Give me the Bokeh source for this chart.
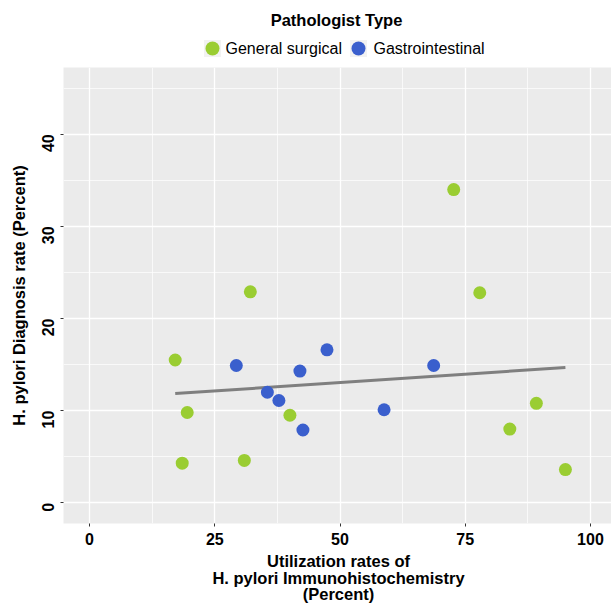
import numpy as np
from math import pi
from bokeh.plotting import figure
from bokeh.layouts import column
from bokeh.models import Range1d, FixedTicker
from bokeh.core.properties import value
from bokeh.embed import file_html
from bokeh.resources import INLINE

# ---------------- data ----------------
categories = ["General surgical", "Gastrointestinal"]
colors = ["#9ACD32", "#3A5FCD"]

gs_x = [17.1, 19.5, 18.5, 32.1, 30.9, 40.0, 72.7, 77.9, 83.9, 89.2, 95.0]
gs_y = [15.5, 9.8, 4.3, 22.9, 4.6, 9.5, 34.0, 22.8, 8.0, 10.8, 3.6]

gi_x = [29.3, 35.5, 37.8, 42.0, 42.6, 47.4, 58.8, 68.7]
gi_y = [14.9, 12.0, 11.1, 14.3, 7.9, 16.6, 10.1, 14.9]

x_ticks = [0, 25, 50, 75, 100]
x_minor = [12.5, 37.5, 62.5, 87.5]
y_ticks = [0, 10, 20, 30, 40]
y_minor = [5, 15, 25, 35, 45]

legend_title = "Pathologist Type"
x_title_lines = ["Utilization rates of", "H. pylori Immunohistochemistry", "(Percent)"]
y_title = "H. pylori Diagnosis rate (Percent)"

FONT = "Liberation Sans"
BOLD_SIZE = "16.5px"
W = 611
LEFT = 63          # frame left edge (px)
HDR_H = 67         # header height = frame top
MAIN_H = 483       # frame 456 + bottom border 27
FTR_H = 603 - HDR_H - MAIN_H


def blank(height, top):
    f = figure(width=W, height=height, x_range=Range1d(LEFT, W), y_range=Range1d(top + height, top),
               x_axis_type=None, y_axis_type=None,
               min_border_left=LEFT, min_border_right=0, min_border_top=0, min_border_bottom=0,
               output_backend="svg", toolbar_location=None)
    f.outline_line_color = None
    f.background_fill_color = "white"
    f.border_fill_color = "white"
    return f


# ---------------- header (legend) ----------------
hdr = blank(HDR_H, 0)
hdr.text(x=[336], y=[19.5], text=[legend_title], text_font=value(FONT),
         text_font_style="bold", text_font_size=BOLD_SIZE, text_align="center",
         text_baseline="middle", text_color="black")
key_x = [212, 358]
label_x = [225, 373]
key_y = [48, 48]
hdr.scatter(x=key_x, y=key_y, marker="square", size=17, fill_color="#F2F2F2", line_color=None)
hdr.scatter(x=key_x, y=key_y, size=14, fill_color=colors, line_color=None)
hdr.text(x=label_x, y=key_y, text=categories, text_font=value(FONT),
         text_font_size="16px", text_align="left", text_baseline="middle",
         text_color="black")

# ---------------- main panel ----------------
main = figure(width=W, height=MAIN_H, x_range=Range1d(-5.2, 104.2), y_range=Range1d(-2.25, 47.25),
              min_border_left=LEFT, min_border_right=0, min_border_top=0, min_border_bottom=MAIN_H - 456,
              output_backend="svg", toolbar_location=None)
main.background_fill_color = "#EBEBEB"
main.border_fill_color = "white"
main.outline_line_color = None

xt = FixedTicker(ticks=x_ticks, minor_ticks=x_minor)
yt = FixedTicker(ticks=y_ticks, minor_ticks=y_minor)
main.xaxis.ticker = xt
main.yaxis.ticker = yt
main.xgrid.ticker = xt
main.ygrid.ticker = yt
for g in (main.xgrid[0], main.ygrid[0]):
    g.grid_line_color = "white"
    g.grid_line_width = 1.3
    g.minor_grid_line_color = "white"
    g.minor_grid_line_width = 0.7

for ax in (main.xaxis[0], main.yaxis[0]):
    ax.axis_line_color = None
    ax.major_tick_line_color = "#333333"
    ax.major_tick_out = 3
    ax.major_tick_in = 0
    ax.minor_tick_line_color = None
    ax.major_label_text_font = FONT
    ax.major_label_text_font_style = "bold"
    ax.major_label_text_font_size = "16px"
    ax.major_label_text_color = "black"

main.xaxis.major_label_standoff = 5
main.yaxis.major_label_orientation = pi / 2
main.yaxis.major_label_standoff = 11
main.yaxis.axis_label = y_title
main.yaxis.axis_label_text_font = FONT
main.yaxis.axis_label_text_font_style = "bold"
main.yaxis.axis_label_text_font_size = BOLD_SIZE
main.yaxis.axis_label_text_color = "black"
main.yaxis.axis_label_standoff = 6

all_x = np.array(gs_x + gi_x)
all_y = np.array(gs_y + gi_y)
slope, intercept = np.polyfit(all_x, all_y, 1)
fit_x = np.array([all_x.min(), all_x.max()])
main.line(fit_x, slope * fit_x + intercept, line_color="#7F7F7F", line_width=3)

main.scatter(gs_x, gs_y, size=13, fill_color=colors[0], line_color=None)
main.scatter(gi_x, gi_y, size=13, fill_color=colors[1], line_color=None)

# ---------------- footer (x title) ----------------
top_f = HDR_H + MAIN_H
ftr = blank(FTR_H, top_f)
ftr.text(x=[338, 338, 338], y=[560.5, 577, 593.5], text=x_title_lines, text_font=value(FONT),
         text_font_style="bold", text_font_size=BOLD_SIZE, text_align="center",
         text_baseline="middle", text_color="black")

layout = column(hdr, main, ftr, spacing=0)
open("out.html", "w").write(file_html(layout, INLINE))
